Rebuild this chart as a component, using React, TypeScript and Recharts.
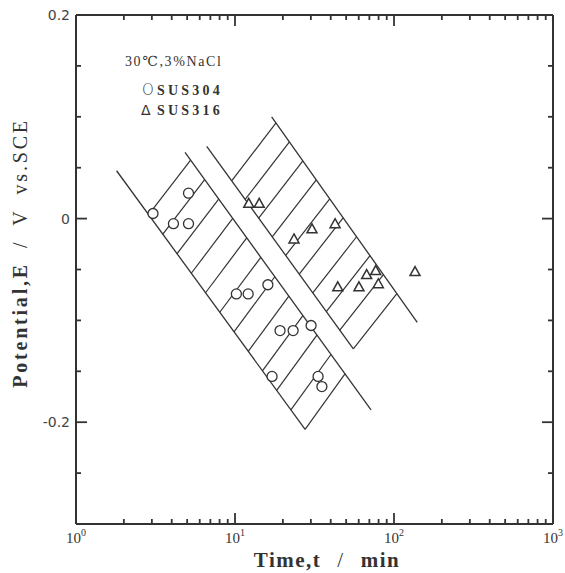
import { ComposedChart, Scatter, XAxis, YAxis, ReferenceLine } from "recharts"

// SUS304 (circles)
const sus304Time = [3.05, 4.1, 5.1, 5.1, 10.2, 12.1, 16.1, 19.2, 23.2, 30.1, 17.1, 33.3, 35.2]
const sus304Potential = [0.005, -0.005, 0.025, -0.005, -0.074, -0.074, -0.065, -0.11, -0.11, -0.105, -0.155, -0.155, -0.165]

// SUS316 (triangles)
const sus316Time = [12.2, 14.2, 23.5, 30.5, 42.6, 44.3, 60.2, 67.3, 76.7, 79.7, 135.6]
const sus316Potential = [0.015, 0.015, -0.02, -0.01, -0.005, -0.067, -0.067, -0.055, -0.051, -0.064, -0.052]

// band edges, [start, end]
const band304LowTime = [1.8, 27.6]
const band304LowPotential = [0.047, -0.207]
const band304HighTime = [4.85, 71.7]
const band304HighPotential = [0.065, -0.188]
const band316LowTime = [6.64, 55.5]
const band316LowPotential = [0.071, -0.128]
const band316HighTime = [17.0, 140]
const band316HighPotential = [0.1, -0.102]

const xTicks = [1, 2, 3, 4, 5, 6, 7, 8, 9, 10, 20, 30, 40, 50, 60, 70, 80, 90, 100, 200, 300, 400, 500, 600, 700, 800, 900, 1000]
const yTicks = [0.2, 0.15, 0.1, 0.05, 0, -0.05, -0.1, -0.15, -0.2, -0.25]
const yLabels = ["0.2", "0", "-0.2"]

const X_MIN = 1
const X_MAX = 1000
const Y_MIN = -0.3
const Y_MAX = 0.2

const INK = "#333"
const SERIF = "'Liberation Serif', 'DejaVu Serif', serif"

type Edge = { time: number[]; potential: number[] }

const at = (edge: Edge, f: number) => {
  const a = Math.log10(edge.time[0])
  const b = Math.log10(edge.time[1])
  return {
    x: Math.pow(10, a + f * (b - a)),
    y: edge.potential[0] + f * (edge.potential[1] - edge.potential[0]),
  }
}

// hatch strokes run from the lower edge up to the upper edge
function hatch(low: Edge, high: Edge, count: number, from: number, to: number, shift: number) {
  const segs = []
  for (let i = 0; i < count; i++) {
    const f = from + ((to - from) * i) / (count - 1)
    segs.push([at(low, f), at(high, f + shift)])
  }
  return segs
}

const band304Low = { time: band304LowTime, potential: band304LowPotential }
const band304High = { time: band304HighTime, potential: band304HighPotential }
const band316Low = { time: band316LowTime, potential: band316LowPotential }
const band316High = { time: band316HighTime, potential: band316HighPotential }

const edges = [band304Low, band304High, band316Low, band316High]
const hatches = [
  ...hatch(band304Low, band304High, 12, 0.17, 1.0, -0.14),
  ...hatch(band316Low, band316High, 10, 0.17, 1.0, -0.14),
]

const sus304 = sus304Time.map((t, i) => ({ t, e: sus304Potential[i] }))
const sus316 = sus316Time.map((t, i) => ({ t, e: sus316Potential[i] }))

const isDecade = (v: number) => Math.abs(Math.log10(v) - Math.round(Math.log10(v))) < 1e-9
const isYMajor = (v: number) => Math.abs(v * 5 - Math.round(v * 5)) < 1e-9

// frame tick marks, placed on the plot edges through the chart scales
const bottomMarks = xTicks.map((t) => ({ t, e: Y_MIN, major: isDecade(t) }))
const topMarks = xTicks.map((t) => ({ t, e: Y_MAX, major: isDecade(t) }))
const leftMarks = yTicks.map((e) => ({ t: X_MIN, e, major: isYMajor(e) }))
const rightMarks = yTicks.map((e) => ({ t: X_MAX, e, major: isYMajor(e) }))

const tickShape = (dx: number, dy: number) => (p: any) => {
  const major = (p.payload && p.payload.major) || p.major
  const len = major ? 11 : 5
  return (
    <line
      x1={p.cx}
      y1={p.cy}
      x2={p.cx + dx * len}
      y2={p.cy + dy * len}
      stroke={INK}
      strokeWidth={1.8}
    />
  )
}

const BottomLabel = (props: any) => {
  const { x, y, payload } = props
  const v = payload.value
  if (!isDecade(v)) return <g />
  return (
    <text x={x} y={y + 19} textAnchor="middle" fontFamily={SERIF} fontSize={15} fill={INK}>
      <tspan>10</tspan>
      <tspan dy={-7} fontSize={10}>
        {Math.round(Math.log10(v))}
      </tspan>
    </text>
  )
}

const yLabelFor = (v: number) => {
  if (Math.abs(v - 0.2) < 1e-9) return yLabels[0]
  if (Math.abs(v) < 1e-9) return yLabels[1]
  if (Math.abs(v + 0.2) < 1e-9) return yLabels[2]
  return null
}

const LeftLabel = (props: any) => {
  const { x, y, payload } = props
  const label = yLabelFor(payload.value)
  if (!label) return <g />
  return (
    <text x={x - 6} y={y + 5} textAnchor="end" fontFamily="'DejaVu Sans', sans-serif" fontSize={14} fill="#444">
      {label}
    </text>
  )
}

const CircleMark = (p: any) => (
  <circle cx={p.cx} cy={p.cy} r={5} fill="#fff" stroke={INK} strokeWidth={1.3} />
)

const TriangleMark = (p: any) => (
  <path
    d={`M${p.cx},${p.cy - 5} L${p.cx + 5},${p.cy + 4} L${p.cx - 5},${p.cy + 4} Z`}
    fill="#fff"
    stroke={INK}
    strokeWidth={1.5}
  />
)

const axisLine = { stroke: INK, strokeWidth: 2 }

export default function App() {
  return (
    <div style={{ position: "absolute", left: 0, top: 0, width: 565, height: 573, background: "#fff" }}>
      <ComposedChart width={565} height={573} margin={{ top: 0, right: 0, bottom: 0, left: 0 }}>
        <XAxis
          xAxisId="b"
          dataKey="t"
          type="number"
          scale="log"
          domain={[X_MIN, X_MAX]}
          allowDataOverflow
          ticks={xTicks}
          interval={0}
          height={49}
          tickSize={0}
          tickMargin={0}
          tickLine={false}
          axisLine={axisLine}
          tick={BottomLabel}
        />
        <XAxis
          xAxisId="t"
          orientation="top"
          type="number"
          scale="log"
          domain={[X_MIN, X_MAX]}
          allowDataOverflow
          ticks={xTicks}
          height={15}
          tickLine={false}
          axisLine={axisLine}
          tick={false}
        />
        <YAxis
          yAxisId="l"
          dataKey="e"
          type="number"
          domain={[Y_MIN, Y_MAX]}
          allowDataOverflow
          ticks={yTicks}
          interval={0}
          width={76}
          tickSize={0}
          tickMargin={0}
          tickLine={false}
          axisLine={axisLine}
          tick={LeftLabel}
        />
        <YAxis
          yAxisId="r"
          orientation="right"
          type="number"
          domain={[Y_MIN, Y_MAX]}
          allowDataOverflow
          ticks={yTicks}
          width={12}
          tickLine={false}
          axisLine={axisLine}
          tick={false}
        />
        {edges.map((edge, i) => (
          <ReferenceLine
            key={"edge" + i}
            xAxisId="b"
            yAxisId="l"
            segment={[at(edge, 0), at(edge, 1)]}
            stroke={INK}
            strokeWidth={1.3}
            ifOverflow="visible"
          />
        ))}
        {hatches.map((seg, i) => (
          <ReferenceLine
            key={"h" + i}
            xAxisId="b"
            yAxisId="l"
            segment={seg}
            stroke={INK}
            strokeWidth={1.2}
            ifOverflow="visible"
          />
        ))}
        <Scatter xAxisId="b" yAxisId="l" data={bottomMarks} shape={tickShape(0, -1)} isAnimationActive={false} />
        <Scatter xAxisId="b" yAxisId="l" data={topMarks} shape={tickShape(0, 1)} isAnimationActive={false} />
        <Scatter xAxisId="b" yAxisId="l" data={leftMarks} shape={tickShape(1, 0)} isAnimationActive={false} />
        <Scatter xAxisId="b" yAxisId="l" data={rightMarks} shape={tickShape(-1, 0)} isAnimationActive={false} />
        <Scatter xAxisId="b" yAxisId="l" data={sus304} shape={CircleMark} isAnimationActive={false} />
        <Scatter xAxisId="b" yAxisId="l" data={sus316} shape={TriangleMark} isAnimationActive={false} />
      </ComposedChart>
      <svg width={565} height={573} style={{ position: "absolute", left: 0, top: 0, pointerEvents: "none" }}>
        <g fontFamily={SERIF} fill={INK}>
          <text x={125} y={66} fontSize={14} letterSpacing={1.6}>
            30℃,3%NaCl
          </text>
          <text x={142} y={95} fontSize={15} fontFamily="'DejaVu Sans', sans-serif" fontWeight={300}>
            O
          </text>
          <text x={157} y={95} fontSize={14} fontWeight="bold" letterSpacing={3.2}>
            SUS304
          </text>
          <text x={141} y={115} fontSize={14} fontFamily="'DejaVu Sans', sans-serif">
            Δ
          </text>
          <text x={157} y={115} fontSize={14} fontWeight="bold" letterSpacing={3.2}>
            SUS316
          </text>
          <text x={327} y={567} textAnchor="middle" fontSize={21} letterSpacing={1.5}>
            <tspan fontWeight="bold">Time,t</tspan>
            <tspan dx={16}>/</tspan>
            <tspan dx={16} fontWeight="bold">min</tspan>
          </text>
          <text transform="translate(27,253) rotate(-90)" textAnchor="middle" fontSize={20} letterSpacing={2.8}>
            <tspan fontWeight="bold">Potential,E</tspan>
            <tspan dx={14}>/</tspan>
            <tspan dx={14}>V</tspan>
            <tspan dx={14}>vs.SCE</tspan>
          </text>
        </g>
      </svg>
    </div>
  )
}
